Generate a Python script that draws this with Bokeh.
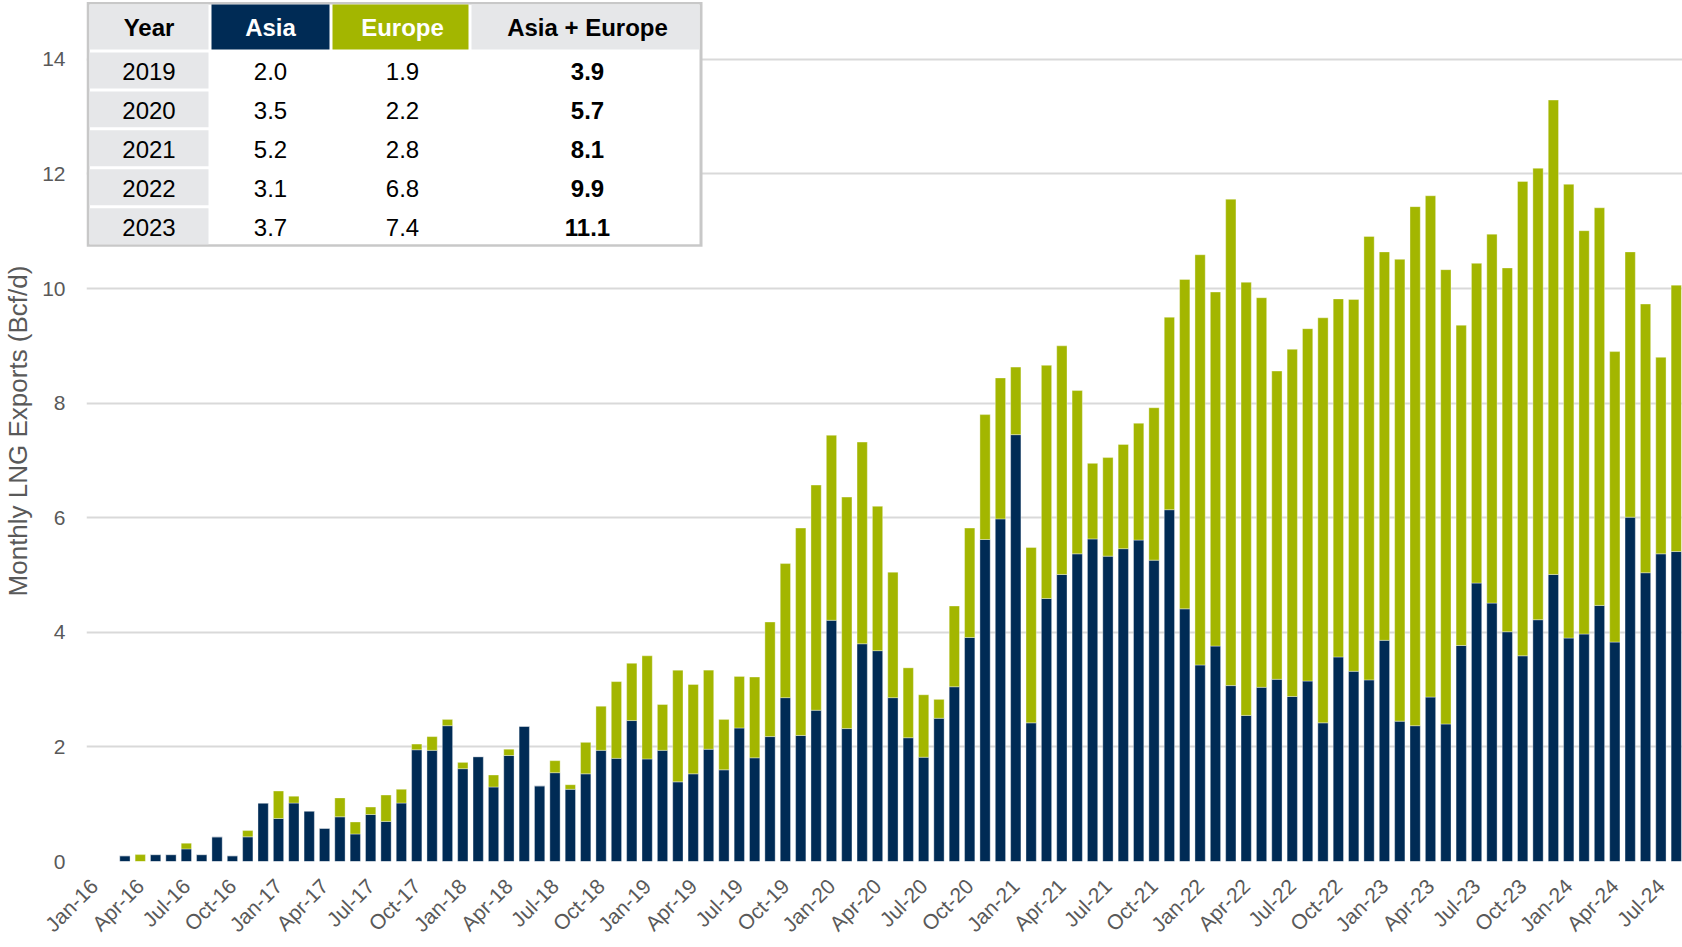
import math
from bokeh.plotting import figure
from bokeh.models import Range1d, FixedTicker, ColumnDataSource
from bokeh.core.properties import value
from bokeh.embed import file_html
from bokeh.resources import INLINE

# ---------------- data ----------------
month_names = ["Jan", "Feb", "Mar", "Apr", "May", "Jun", "Jul", "Aug", "Sep", "Oct", "Nov", "Dec"]
months = [f"{month_names[m]}-{y % 100:02d}" for y in range(2016, 2025) for m in range(12)][:104]

asia = [
    0.00, 0.00, 0.10, 0.00, 0.12, 0.12, 0.22, 0.12, 0.43, 0.10, 0.43, 1.02,
    0.75, 1.02, 0.88, 0.58, 0.78, 0.48, 0.82, 0.70, 1.02, 1.95, 1.94, 2.37,
    1.62, 1.83, 1.30, 1.85, 2.36, 1.32, 1.55, 1.26, 1.53, 1.94, 1.80, 2.46,
    1.79, 1.94, 1.39, 1.53, 1.96, 1.60, 2.33, 1.81, 2.18, 2.86, 2.20, 2.64,
    4.21, 2.32, 3.80, 3.68, 2.86, 2.16, 1.82, 2.50, 3.05, 3.91, 5.62, 5.98,
    7.45, 2.42, 4.59, 5.01, 5.37, 5.63, 5.33, 5.46, 5.61, 5.26, 6.14, 4.41,
    3.43, 3.76, 3.07, 2.55, 3.04, 3.18, 2.88, 3.15, 2.42, 3.57, 3.32, 3.17,
    3.86, 2.45, 2.37, 2.87, 2.40, 3.77, 4.86, 4.51, 4.01, 3.59, 4.22, 5.01,
    3.90, 3.97, 4.47, 3.83, 6.01, 5.04, 5.37, 5.41,
]
europe = [
    0.00, 0.00, 0.00, 0.12, 0.00, 0.00, 0.10, 0.00, 0.00, 0.00, 0.11, 0.00,
    0.48, 0.12, 0.00, 0.00, 0.33, 0.21, 0.13, 0.46, 0.24, 0.10, 0.24, 0.11,
    0.11, 0.00, 0.21, 0.11, 0.00, 0.00, 0.21, 0.08, 0.55, 0.77, 1.34, 1.00,
    1.80, 0.80, 1.95, 1.56, 1.38, 0.88, 0.90, 1.41, 2.00, 2.34, 3.62, 3.93,
    3.23, 4.04, 3.52, 2.52, 2.19, 1.22, 1.09, 0.33, 1.41, 1.91, 2.18, 2.46,
    1.18, 3.06, 4.07, 3.99, 2.85, 1.32, 1.72, 1.82, 2.04, 2.66, 3.36, 5.75,
    7.16, 6.18, 8.49, 7.56, 6.80, 5.38, 6.06, 6.15, 7.07, 6.25, 6.49, 7.74,
    6.78, 8.06, 9.06, 8.75, 7.93, 5.59, 5.58, 6.44, 6.35, 8.28, 7.88, 8.28,
    7.92, 7.04, 6.94, 5.07, 4.63, 4.69, 3.43, 4.65,
]

table_years = ["2019", "2020", "2021", "2022", "2023"]
table_asia = [2.0, 3.5, 5.2, 3.1, 3.7]
table_europe = [1.9, 2.2, 2.8, 6.8, 7.4]
table_total = [3.9, 5.7, 8.1, 9.9, 11.1]
table_header = ["Year", "Asia", "Europe", "Asia + Europe"]

y_ticks = [0, 2, 4, 6, 8, 10, 12, 14]

# ---------------- style ----------------
NAVY = "#002B55"
GREEN = "#A3B600"
CELL_GRAY = "#E6E7E9"
BORDER_GRAY = "#C8C8C8"
GRID = "#D9D9D9"
AXIS_TXT = "#595959"
FONT = "Liberation Sans"

W, H = 1682, 947
FL, FB = 86, 85
PX_MONTH = 15.36
PX_UNIT = 57.36
FW, FH = W - FL, H - FB
X0 = -0.5
X1 = X0 + FW / PX_MONTH
Y0 = 0.0
Y1 = FH / PX_UNIT

p = figure(width=W, height=H, output_backend="svg", toolbar_location=None,
           x_range=Range1d(X0, X1), y_range=Range1d(Y0, Y1),
           min_border_left=FL, min_border_right=0, min_border_top=0, min_border_bottom=FB)
p.outline_line_color = None
p.background_fill_color = "white"
p.border_fill_color = "white"

src = ColumnDataSource(dict(x=list(range(len(months))), Asia=asia, Europe=europe, label=months))
p.vbar_stack(["Asia", "Europe"], x="x", width=0.67, source=src,
             color=[NAVY, GREEN], line_color="white", line_width=0.6, line_alpha=0.6)

# y axis
p.xgrid.grid_line_color = None
p.ygrid.grid_line_color = GRID
p.ygrid.grid_line_width = 2
p.ygrid.ticker = FixedTicker(ticks=y_ticks)

p.yaxis.ticker = FixedTicker(ticks=y_ticks)
p.yaxis.axis_line_color = None
p.yaxis.major_tick_line_color = None
p.yaxis.minor_tick_line_color = None
p.yaxis.major_label_standoff = 15
p.yaxis.major_label_text_font = FONT
p.yaxis.major_label_text_font_size = "21px"
p.yaxis.major_label_text_color = AXIS_TXT
p.yaxis.axis_label = "Monthly LNG Exports (Bcf/d)"
p.yaxis.axis_label_text_font = FONT
p.yaxis.axis_label_text_font_size = "26px"
p.yaxis.axis_label_text_font_style = "normal"
p.yaxis.axis_label_text_color = AXIS_TXT
p.yaxis.axis_label_standoff = 6

# x axis: quarterly month labels, rotated
xt = list(range(0, len(months), 3))
p.xaxis.ticker = FixedTicker(ticks=xt)
p.xaxis.major_label_overrides = {i: months[i] for i in xt}
p.xaxis.major_label_orientation = math.pi / 4
p.xaxis.axis_line_color = None
p.xaxis.major_tick_line_color = None
p.xaxis.minor_tick_line_color = None
p.xaxis.major_tick_out = 0
p.xaxis.major_tick_in = 0
p.xaxis.major_label_standoff = 21
p.xaxis.major_label_text_font = FONT
p.xaxis.major_label_text_font_size = "21px"
p.xaxis.major_label_text_color = AXIS_TXT

# ---------------- summary table (positioned in figure pixels) ----------------
def xd(px):
    return X0 + (px - FL) / PX_MONTH
def yd(py):
    return Y1 - py / PX_UNIT

def box(l, r, t, b, color):
    p.quad(left=[xd(l)], right=[xd(r)], top=[yd(t)], bottom=[yd(b)],
           fill_color=color, line_color=None)

box(86, 702, 1.5, 246.5, BORDER_GRAY)
box(89, 699, 4, 244, "white")
cols = [(89, 208), (211, 329), (332, 468), (471, 699)]
head_fill = [CELL_GRAY, NAVY, GREEN, CELL_GRAY]
head_txt = ["black", "white", "white", "black"]
for (l, r), c in zip(cols, head_fill):
    box(l, r, 4, 49, c)
for k in range(len(table_years)):
    box(cols[0][0], cols[0][1], 52 + 39 * k, 88 + 39 * k, CELL_GRAY)

centers = [148.5, 270, 402, 587]
p.text(x=[xd(c) for c in centers], y=[yd(27)] * 4, text=table_header,
       text_color=head_txt, text_font=value(FONT), text_font_style="bold",
       text_font_size="24px", text_align="center", text_baseline="middle")

row_y = [yd(71 + 39 * k) for k in range(len(table_years))]
p.text(x=[xd(centers[0])] * 5, y=row_y, text=table_years, text_color="black",
       text_font=value(FONT), text_font_size="24px", text_align="center", text_baseline="middle")
p.text(x=[xd(centers[1])] * 5, y=row_y, text=[f"{v:.1f}" for v in table_asia], text_color="black",
       text_font=value(FONT), text_font_size="24px", text_align="center", text_baseline="middle")
p.text(x=[xd(centers[2])] * 5, y=row_y, text=[f"{v:.1f}" for v in table_europe], text_color="black",
       text_font=value(FONT), text_font_size="24px", text_align="center", text_baseline="middle")
p.text(x=[xd(centers[3])] * 5, y=row_y, text=[f"{v:.1f}" for v in table_total], text_color="black",
       text_font=value(FONT), text_font_style="bold", text_font_size="24px",
       text_align="center", text_baseline="middle")

open("out.html", "w").write(file_html(p, INLINE))
